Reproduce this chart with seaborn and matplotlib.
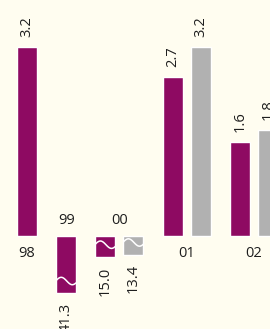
import numpy as np
import pandas as pd
import matplotlib
matplotlib.use('Agg')
import matplotlib.pyplot as plt
import seaborn as sns

# Data
years = ['98', '99', '00', '01', '02']
purple_vals = [3.2, -41.3, -15.0, 2.7, 1.6]
grey_vals = [None, None, -13.4, 3.2, 1.8]

PURPLE = '#8E0A62'
GREY = '#B1B1B1'
BG = '#FFFDF0'
TXT = '#1e1e1e'

sns.set_theme(style='white')
plt.rcParams['font.family'] = ['Open Sans', 'DejaVu Sans']

# negative values are drawn on a squeezed (broken) scale
neg_squeeze = 0.0234
px = 1 / 59.0   # one pixel in value units (positive scale)

# pack bars: step 1 inside a group, 1.4 between groups, missing bars dropped
rows = []
group_x = []
pos = 0.0
for i, yr in enumerate(years):
    if i > 0:
        pos += 0.4
    xs = []
    for name, vals in (('purple', purple_vals), ('grey', grey_vals)):
        v = vals[i]
        if v is None:
            continue
        shown = v if v > 0 else v * neg_squeeze
        rows.append({'pos': round(pos, 3), 'value': v, 'shown': shown, 'series': name})
        xs.append(pos)
        pos += 1.0
    group_x.append(np.mean(xs))
df = pd.DataFrame(rows)

fig = plt.figure(figsize=(2.7, 3.29), dpi=100, facecolor=BG)
ax = fig.add_axes([0, 0, 1, 1])
ax.set_facecolor(BG)

bw = 0.714
sns.barplot(data=df, x='pos', y='shown', hue='series',
            palette={'purple': PURPLE, 'grey': GREY},
            native_scale=True, dodge=False, width=bw,
            errorbar=None, legend=False, saturation=1, ax=ax)

# value labels + break squiggles
for _, r in df.iterrows():
    if r['value'] > 0:
        ax.annotate(f"{r['value']:.1f}", (r['pos'], r['shown']), xytext=(0, 7),
                    textcoords='offset points', rotation=90, ha='center',
                    va='bottom', fontsize=10.5, color=TXT)
    else:
        ax.annotate(f"{abs(r['value']):.1f}", (r['pos'], r['shown']), xytext=(0, -7),
                    textcoords='offset points', rotation=90, ha='center',
                    va='top', fontsize=10.5, color=TXT)
        t = np.linspace(0, 1, 40)
        cy = r['shown'] + 12 * px
        ax.plot(r['pos'] - bw / 2 + t * bw,
                cy + 3.7 * px * np.sin(np.pi * (1.8 * t + 0.05)),
                color='white', lw=1.1, solid_capstyle='butt')

# year labels: below the zero line for rises, above it for falls
for i, yr in enumerate(years):
    up = purple_vals[i] < 0
    ax.annotate(yr, (group_x[i], 0), xytext=(0, 6 if up else -7),
                textcoords='offset points', ha='center',
                va='bottom' if up else 'top', fontsize=10.5, color=TXT)

ax.set_xlim(-27 / 28, 243 / 28)
ax.set_ylim(-93 * px, 236 * px)
ax.axis('off')

fig.savefig('out.png', dpi=100, facecolor=BG)
